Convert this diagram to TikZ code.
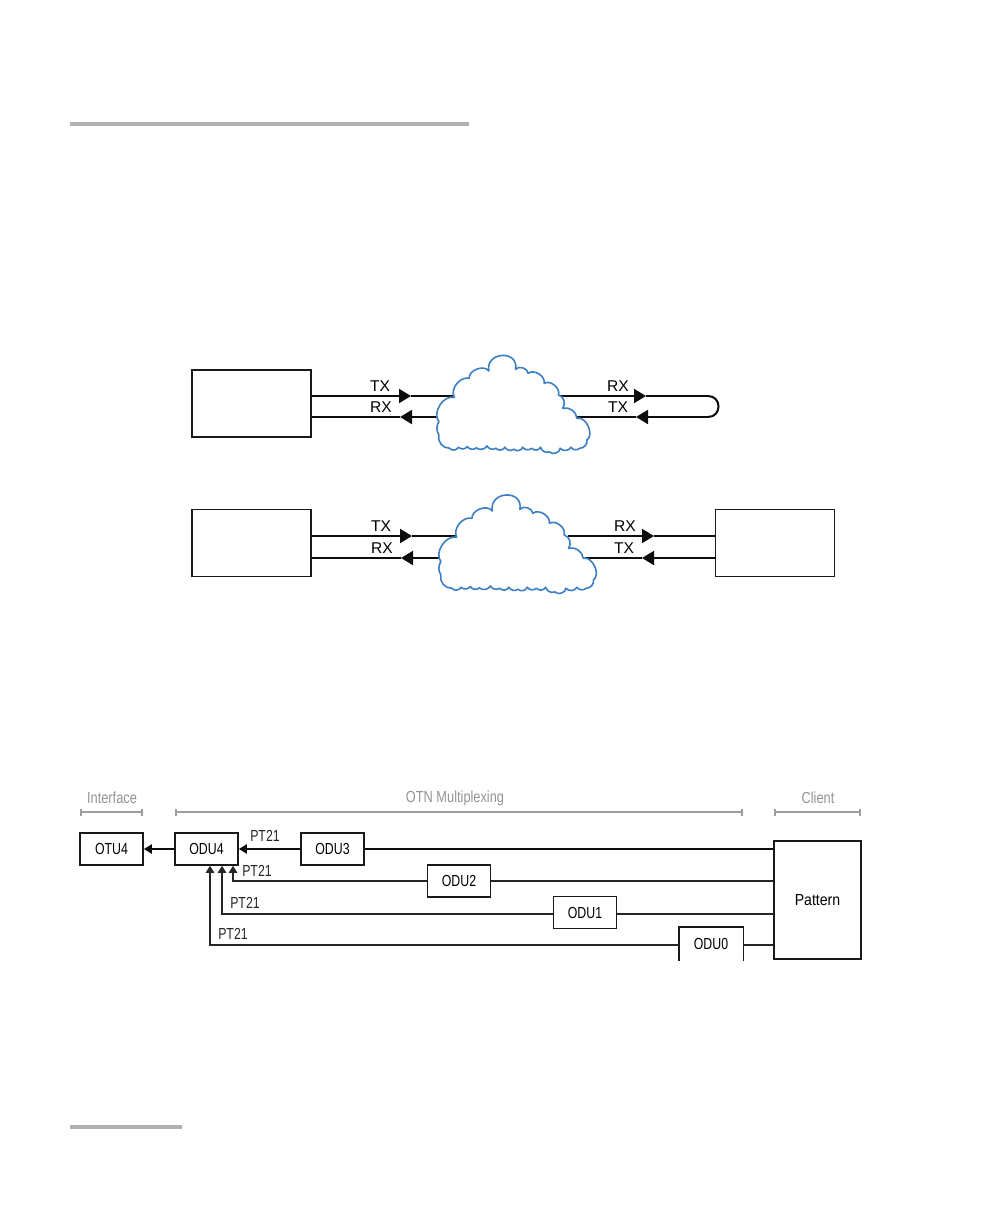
\documentclass[tikz,border=0pt]{standalone}
\usepackage{fontspec}
\setmainfont{Liberation Sans}
\usetikzlibrary{arrows.meta}
\newcommand\sq[1]{\scalebox{.77}[1]{#1}}
\newcommand\sqh[1]{\scalebox{.8}[1]{#1}}
\newcommand\cloudpath{(768,172) to[bend left=65] (810,115) to[bend left=75] (865,93) to[out=100,in=80,looseness=1.9] (940,88) to[bend left=70] (975,100) to[bend left=70] (1020,130) to[bend left=70] (1060,165) to[bend left=60] (1072,205) to[bend left=50] (1112,235) to[bend left=80] (1140,300) to[bend left=50] (1120,325) to[bend left=50] (1095,322) to[bend left=60] (1065,325) to[bend left=70] (1035,336) to[bend left=50] (1010,322) to[bend left=60] (985,325) to[bend left=50] (960,322) to[bend left=60] (935,328) to[bend left=50] (910,322) to[bend left=60] (885,325) to[bend left=50] (860,318) to[bend left=50] (830,324) to[bend left=50] (805,320) to[bend left=50] (780,322) to[bend left=60] (755,325) to[bend left=55] (725,285) to[bend left=30] (725,245) to[bend left=70] cycle}
\tikzset{
  bigbox/.style={draw=black!90,line width=1.8pt,fill=white,inner sep=0pt,minimum width=119pt,minimum height=67pt},
  smallbox/.style={draw=black!90,line width=1.6pt,fill=white,inner sep=0pt,minimum width=63pt,minimum height=32pt,font=\fontsize{16}{18}\selectfont},
  lbl/.style={inner sep=0pt,font=\fontsize{15.6}{18}\selectfont},
  ptl/.style={inner sep=0pt,font=\fontsize{16}{18}\selectfont,text=black!85},
  head/.style={inner sep=0pt,font=\fontsize{16}{18}\selectfont,text=black!42},
  link/.style={line width=2pt,draw=black!95},
  linkarrow/.style={link,-{Triangle[length=12pt,width=14pt]}},
  thinlink/.style={line width=1.3pt,draw=black!85},
  thinarrow/.style={thinlink,-{Triangle[length=7pt,width=8.5pt]}},
  midarrow/.style={link,-{Triangle[length=8pt,width=9pt]}},
  bracket/.style={line width=1.6pt,draw=black!38,{Bar[width=7pt]}-{Bar[width=7pt]}},
  rulebar/.style={line width=4pt,draw=black!30},
  cloudline/.style={draw={rgb,255:red,61;green,127;blue,196},line width=1.6pt,fill=white,line join=round},
}
\begin{document}
\begin{tikzpicture}[x=1pt,y=-1pt]
\useasboundingbox (0,0) rectangle (1008,1224);
\fill[white] (0,0) rectangle (1008,1224);
% page rules
\coordinate (ra) at (70,124); \coordinate (rb) at (469,124);
\coordinate (rc) at (70,1127); \coordinate (rd) at (182,1127);
\draw[rulebar] (ra) -- (rb);
\draw[rulebar] (rc) -- (rd);

% first row
\node[bigbox] (a1) at (251.5,403.5) {};
\coordinate (a1tx) at (411,396); \coordinate (a1rx) at (400,417);
\coordinate (c1a) at (454,396); \coordinate (c1b) at (439,417);
\coordinate (c1c) at (560,396); \coordinate (c1d) at (577,417);
\coordinate (r1tip) at (646,396); \coordinate (t1tip) at (636,417);
\coordinate (l1a) at (708,396); \coordinate (l1b) at (708,417);
\draw[linkarrow] (a1.east |- a1tx) -- (a1tx);
\draw[link] (a1tx) -- (c1a);
\draw[linkarrow] (c1b) -- (a1rx);
\draw[link] (a1rx) -- (a1.east |- a1rx);
\draw[linkarrow] (c1c) -- (r1tip);
\draw[link] (r1tip) -- (l1a);
\draw[link] (l1a) .. controls (722,396) and (722,417) .. (l1b);
\draw[linkarrow] (l1b) -- (t1tip);
\draw[link] (t1tip) -- (c1d);
\begin{scope}[shift={(180,340)},x=.357pt,y=-.333pt]
\draw[cloudline] \cloudpath;
\end{scope}
\node[lbl] (l1) at (380,386) {TX};
\node[lbl] (l2) at (381,407) {RX};
\node[lbl] (l3) at (618,386) {RX};
\node[lbl] (l4) at (618,407) {TX};

% second row
\node[bigbox] (a2) at (251.5,543) {};
\node[bigbox] (b2) at (775,543) {};
\coordinate (a2tx) at (412,536); \coordinate (a2rx) at (401,558);
\coordinate (c2a) at (457,536); \coordinate (c2b) at (442,558);
\coordinate (c2c) at (568,536); \coordinate (c2d) at (585,558);
\coordinate (r2tip) at (654,536); \coordinate (t2tip) at (642,558);
\draw[linkarrow] (a2.east |- a2tx) -- (a2tx);
\draw[link] (a2tx) -- (c2a);
\draw[linkarrow] (c2b) -- (a2rx);
\draw[link] (a2rx) -- (a2.east |- a2rx);
\draw[linkarrow] (c2c) -- (r2tip);
\draw[link] (r2tip) -- (b2.west |- r2tip);
\draw[linkarrow] (b2.west |- t2tip) -- (t2tip);
\draw[link] (t2tip) -- (c2d);
\begin{scope}[shift={(174,480)},x=.368pt,y=-.333pt]
\draw[cloudline] \cloudpath;
\end{scope}
\node[lbl] (l5) at (381,526) {TX};
\node[lbl] (l6) at (382,548) {RX};
\node[lbl] (l7) at (625,526) {RX};
\node[lbl] (l8) at (624,548) {TX};

% bottom diagram
\coordinate (h1a) at (80,812); \coordinate (h1b) at (143,812);
\coordinate (h2a) at (175,812); \coordinate (h2b) at (743,812);
\coordinate (h3a) at (774,812); \coordinate (h3b) at (861,812);
\draw[bracket] (h1a) -- (h1b);
\draw[bracket] (h2a) -- (h2b);
\draw[bracket] (h3a) -- (h3b);
\node[head] (hi) at (112,798) {\sqh{Interface}};
\node[head] (ho) at (455,798) {\sqh{OTN Multiplexing}};
\node[head] (hc) at (818,798) {\sqh{Client}};

\node[smallbox] (otu4) at (111.5,849) {\sq{OTU4}};
\node[smallbox] (odu4) at (206.5,849) {\sq{ODU4}};
\node[smallbox] (odu3) at (332.5,849) {\sq{ODU3}};
\node[smallbox] (odu2) at (459,881) {\sq{ODU2}};
\node[smallbox] (odu1) at (585,912.5) {\sq{ODU1}};
\node[smallbox,draw=none,fill=none] (odu0) at (711,944) {\sq{ODU0}};
\draw[line width=1.6pt,draw=black!90] (odu0.south west) -- (odu0.north west) -- (odu0.north east) -- (odu0.south east);
\node[draw=black!90,line width=1.5pt,fill=white,inner sep=0pt,minimum width=87pt,minimum height=118pt,font=\fontsize{16}{18}\selectfont] (pat) at (817.5,900) {\scalebox{.88}[1]{Pattern}};

\draw[midarrow] (odu4) -- (otu4);
\draw[midarrow] (odu3) -- (odu4);
\draw[link] (odu3.east) -- (odu3.east -| pat.west);

\coordinate (v2) at (233,881); \coordinate (v1) at (222,914); \coordinate (v0) at (210,945);
\draw[thinlink] (odu2.east) -- (odu2.east -| pat.west);
\draw[thinarrow] (odu2.west) -- (v2) -- (v2 |- odu4.south);
\draw[thinlink] (odu1.east |- v1) -- (pat.west |- v1);
\draw[thinarrow] (odu1.west |- v1) -- (v1) -- (v1 |- odu4.south);
\draw[thinlink] (odu0.east |- v0) -- (pat.west |- v0);
\draw[thinarrow] (odu0.west |- v0) -- (v0) -- (v0 |- odu4.south);

\node[ptl] (p3) at (265,836) {\sq{PT21}};
\node[ptl] (p2) at (257,871) {\sq{PT21}};
\node[ptl] (p1) at (245,903) {\sq{PT21}};
\node[ptl] (p0) at (233,934) {\sq{PT21}};
\end{tikzpicture}
\end{document}
